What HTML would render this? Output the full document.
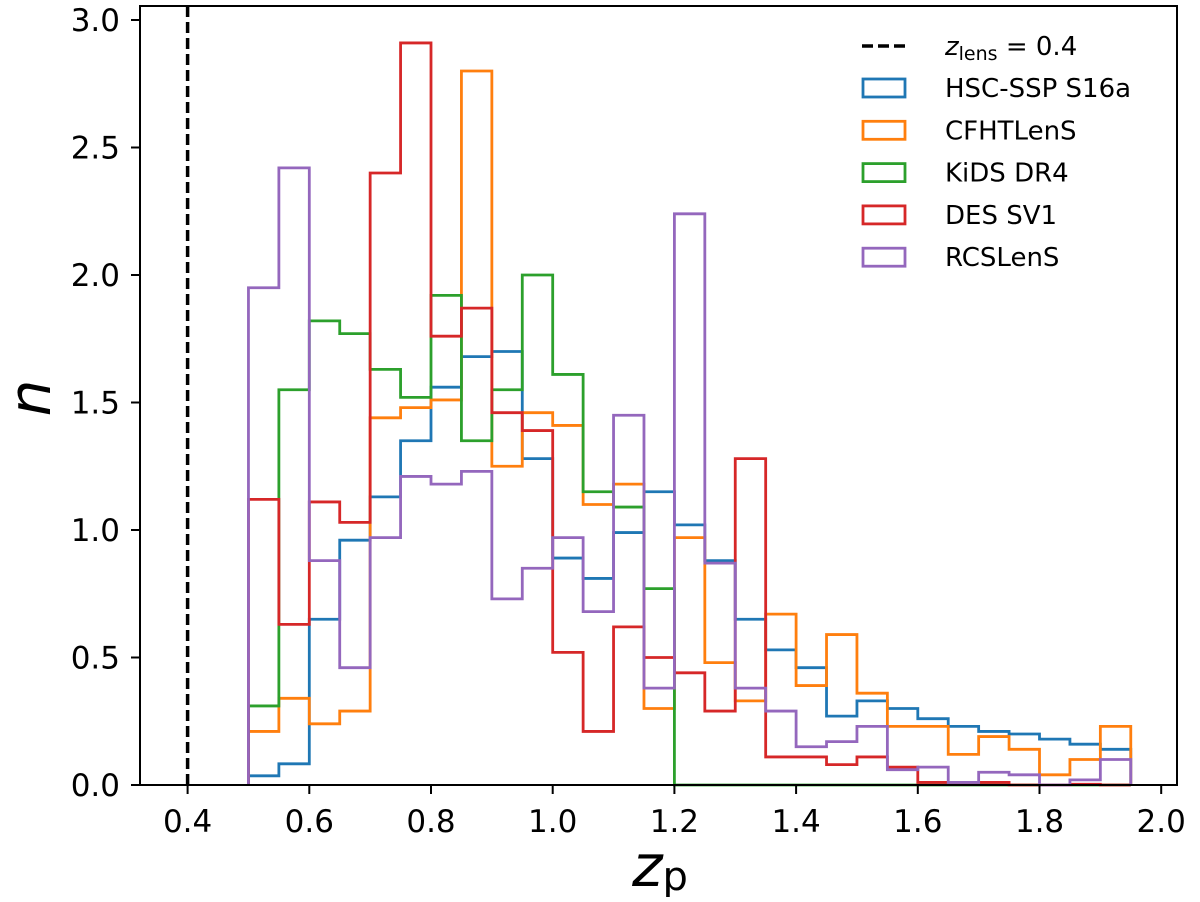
<!DOCTYPE html>
<html><head><meta charset="utf-8"><style>
body{margin:0;background:#fff}
svg text{font-family:"DejaVu Sans","Liberation Sans",sans-serif}
</style></head><body>
<svg id="chart" width="1200" height="897" viewBox="0 0 1200 897" xmlns="http://www.w3.org/2000/svg">
<g id="marks"></g>
<g id="axes"></g>
</svg>
<script>
const binStart = 0.5;
const binWidth = 0.05;
const hscValues = [0.036,0.083,0.65,0.96,1.13,1.35,1.56,1.68,1.70,1.28,0.89,0.81,0.99,1.15,1.02,0.88,0.65,0.53,0.46,0.27,0.33,0.30,0.26,0.23,0.21,0.20,0.18,0.16,0.14];
const cfhtValues = [0.21,0.34,0.24,0.29,1.44,1.48,1.51,2.80,1.25,1.46,1.41,1.10,1.18,0.30,0.97,0.48,0.33,0.67,0.39,0.59,0.36,0.23,0.23,0.12,0.19,0.14,0.04,0.10,0.23];
const kidsValues = [0.31,1.55,1.82,1.77,1.63,1.52,1.92,1.35,1.55,2.00,1.61,1.15,1.09,0.77,0,0,0,0,0,0,0,0,0,0,0,0,0,0,0];
const desValues = [1.12,0.63,1.11,1.03,2.40,2.91,1.76,1.87,1.46,1.39,0.52,0.21,0.62,0.50,0.44,0.29,1.28,0.11,0.11,0.08,0.11,0.07,0.01,0.01,0.01,0,0,0.003,0];
const rcsValues = [1.95,2.42,0.88,0.46,0.97,1.21,1.18,1.23,0.73,0.85,0.97,0.68,1.45,0.38,2.24,0.87,0.38,0.29,0.15,0.17,0.23,0.06,0.07,0.01,0.05,0.04,0,0.02,0.10];
const seriesNames = ["HSC-SSP S16a","CFHTLenS","KiDS DR4","DES SV1","RCSLenS"];
const xTicks = [0.4,0.6,0.8,1.0,1.2,1.4,1.6,1.8,2.0];
const yTicks = [0,0.5,1.0,1.5,2.0,2.5,3.0];
const zLens = 0.4;

const colors = ["#1f77b4","#ff7f0e","#2ca02c","#d62728","#9467bd"];
const allSeries = [hscValues,cfhtValues,kidsValues,desValues,rcsValues];
const L=140,R=1177,T=6,B=785;
const xs = v => 187.6 + (v-0.4)*608.5;
const ys = v => 785 - v*255;
const NS="http://www.w3.org/2000/svg";
const marks=document.getElementById('marks'), axes=document.getElementById('axes');
function mk(tag,attrs,parent){const e=document.createElementNS(NS,tag);for(const k in attrs)e.setAttribute(k,attrs[k]);parent.appendChild(e);return e;}

const zl = mk('line',{x1:xs(zLens),x2:xs(zLens),y1:T,y2:B,stroke:'#000','stroke-width':3.5,'stroke-dasharray':'11,5'},marks);



allSeries.forEach((vals,si)=>{
  let d = `M${xs(binStart)},${ys(0)}`;
  vals.forEach((v,i)=>{
    const x0=xs(binStart+i*binWidth), x1=xs(binStart+(i+1)*binWidth);
    d += ` L${x0},${ys(v)} L${x1},${ys(v)}`;
  });
  d += ` L${xs(binStart+vals.length*binWidth)},${ys(0)}`;
  const p = mk('path',{d:d,fill:'none',stroke:colors[si],'stroke-width':2.8,'stroke-linejoin':'miter'},marks);
  
  
});

const fr = mk('rect',{x:L,y:T,width:R-L,height:B-T,fill:'none',stroke:'#000','stroke-width':2},axes);



xTicks.forEach(t=>{
  const x=xs(t);
  mk('line',{x1:x,x2:x,y1:B,y2:B+9,stroke:'#000','stroke-width':2},axes);
  const tx=mk('text',{x:x,y:B+47,'font-size':31,'text-anchor':'middle'},axes);
  tx.textContent=t.toFixed(1);
  
  
});
yTicks.forEach(t=>{
  const y=ys(t);
  mk('line',{x1:L-9,x2:L,y1:y,y2:y,stroke:'#000','stroke-width':2},axes);
  const tx=mk('text',{x:L-20,y:y+11,'font-size':31,'text-anchor':'end'},axes);
  tx.textContent=t.toFixed(1);
  
  
});

const xt=mk('text',{x:660,y:886,'font-size':58,'font-style':'italic','text-anchor':'middle'},axes);
xt.innerHTML='z<tspan font-size="40" font-style="normal" dy="4">p</tspan>';


const yt=mk('text',{x:50,y:398,'font-size':58,'font-style':'italic','text-anchor':'middle',transform:'rotate(-90 50 398)'},axes);
yt.textContent='n';



const lg=mk('g',{},axes);


mk('line',{x1:862,x2:905,y1:46,y2:46,stroke:'#000','stroke-width':3.5,'stroke-dasharray':'11,5'},lg);
const lt=mk('text',{x:945,y:55,'font-size':26},lg);
lt.innerHTML='<tspan font-style="italic">z</tspan><tspan font-size="19" dy="5">lens</tspan><tspan dy="-5"> = 0.4</tspan>';


seriesNames.forEach((n,i)=>{
  const y=88+i*42.3;
  mk('rect',{x:863,y:y-9,width:42,height:18,fill:'none',stroke:colors[i],'stroke-width':2.8},lg);
  const t=mk('text',{x:945,y:y+9,'font-size':26},lg);
  t.textContent=n;
  
  
});
</script>
</body></html>
